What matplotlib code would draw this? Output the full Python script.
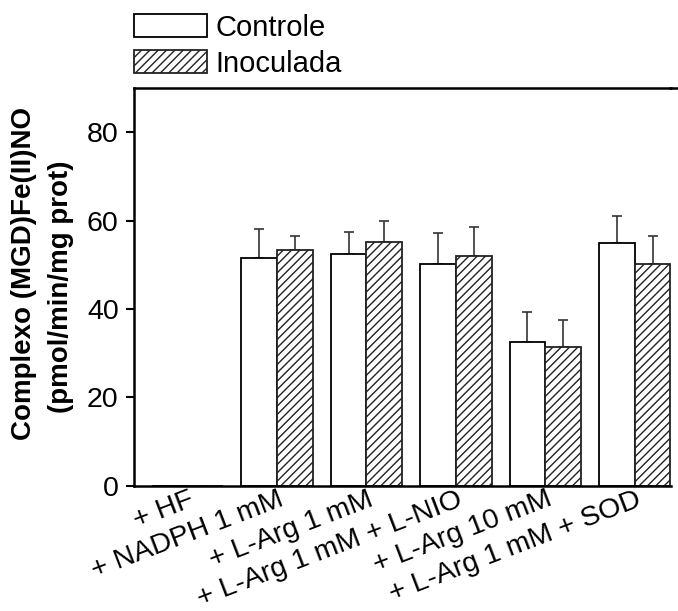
import matplotlib
matplotlib.use("Agg")
import matplotlib.pyplot as plt
import matplotlib.transforms as mtransforms
from matplotlib.lines import Line2D
import numpy as np

plt.rcParams['font.family'] = ['Liberation Sans', 'DejaVu Sans']
plt.rcParams['hatch.linewidth'] = 1.0

categories = ["+ HF", "+ NADPH 1 mM", "+ L-Arg 1 mM", "+ L-Arg 1 mM + L-NIO",
              "+ L-Arg 10 mM", "+ L-Arg 1 mM + SOD"]
controle = [0, 51.6, 52.5, 50.1, 32.6, 55.0]
controle_err = [np.nan, 6.6, 5.0, 7.1, 6.8, 6.1]
inoculada = [0, 53.3, 55.1, 52.0, 31.5, 50.1]
inoculada_err = [np.nan, 3.3, 4.9, 6.5, 6.0, 6.4]
series_labels = ["Controle", "Inoculada"]
yticks = [0, 20, 40, 60, 80]

W, H = 678, 611
fig = plt.figure(figsize=(W / 100, H / 100), dpi=100)
ax = fig.add_axes([134 / W, 1 - 485.7 / H, (670.5 - 134) / W, (485.7 - 88.3) / H])

x = np.arange(len(categories))
bw = 0.4
b1 = ax.bar(x - bw / 2, controle, bw, color='white', edgecolor='black', linewidth=1.3,
            label=series_labels[0], zorder=2)
b2 = ax.bar(x + bw / 2, inoculada, bw, color='white', edgecolor='#222222', linewidth=1.3,
            hatch='////', label=series_labels[1], zorder=2)
ekw = dict(fmt='none', ecolor='#333333', elinewidth=1.2, capsize=3.3, capthick=1.2, zorder=1)
ax.errorbar(x - bw / 2, controle, yerr=[np.zeros(len(x)), controle_err], **ekw)
ax.errorbar(x + bw / 2, inoculada, yerr=[np.zeros(len(x)), inoculada_err], **ekw)

ax.set_xlim(-0.6, 5.4)
ax.set_ylim(0, 90)
ax.set_yticks(yticks)
ax.set_yticklabels([str(v) for v in yticks], fontsize=20.5)
ax.set_xticks(x)
ax.set_xticklabels(categories, fontsize=20.5, rotation=21, ha='right', va='top',
                   rotation_mode='anchor')
ax.tick_params(axis='x', length=0, pad=0.5)
ax.tick_params(axis='y', length=6, width=1.5, direction='out', pad=5)
offset = mtransforms.ScaledTranslation(1 / 100, 0, fig.dpi_scale_trans)
for lab in ax.get_xticklabels():
    lab.set_transform(lab.get_transform() + offset)
for s in ['left', 'bottom', 'top']:
    ax.spines[s].set_linewidth(1.8)
ax.spines['right'].set_visible(False)

# extend top line to the figure edge as in the reference
fig.add_artist(Line2D([670 / W, 1.0], [1 - 88.3 / H, 1 - 88.3 / H], color='black',
                      linewidth=1.8, transform=fig.transFigure))

fig.text(24 / W, 1 - 273.5 / H, "Complexo (MGD)Fe(II)NO", rotation=90, fontsize=20,
         fontweight='bold', ha='center', va='center')
fig.text(61 / W, 1 - 287 / H, "(pmol/min/mg prot)", rotation=90, fontsize=20,
         fontweight='bold', ha='center', va='center')

leg = fig.legend(handles=[b1, b2], labels=series_labels, loc='upper left',
                 bbox_to_anchor=(134 / W, 1 - 13.8 / H), frameon=False, fontsize=21,
                 handlelength=2.5, handleheight=0.86, handletextpad=0.3,
                 labelspacing=0.27, borderpad=0, borderaxespad=0)

fig.savefig("out.png", dpi=100)
